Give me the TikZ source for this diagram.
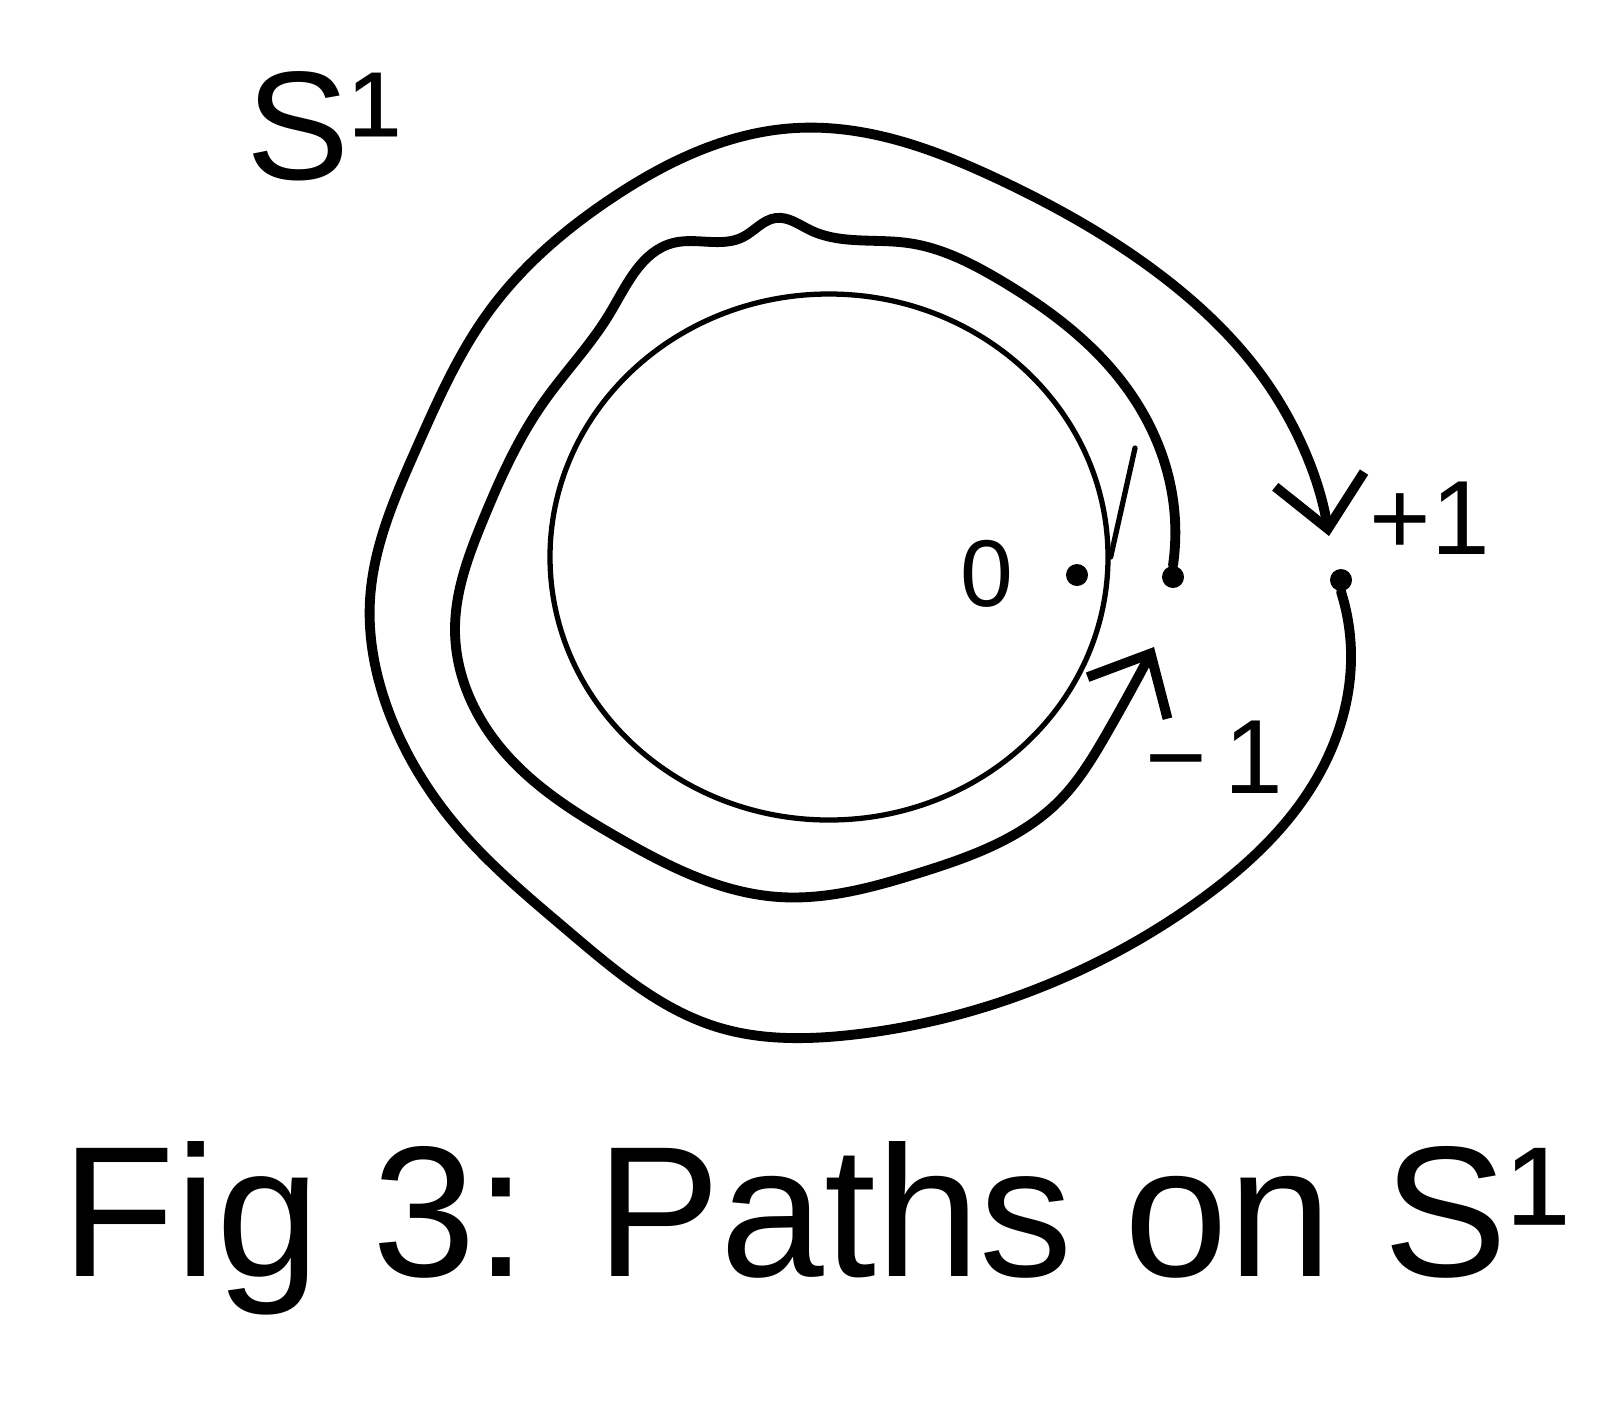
\documentclass[tikz,border=0pt]{standalone}
\usepackage{fontspec}
\setmainfont{Liberation Sans}
\usetikzlibrary{arrows.meta,positioning,calc,shapes.geometric,hobby}

\begin{document}
\begin{tikzpicture}[
    line cap=round, line join=round,
    base/.style={draw, ellipse, line width=1.5pt, inner sep=0pt,
      minimum width=5.58cm, minimum height=5.26cm},
    spot/.style={circle, fill=black, inner sep=0pt, minimum size=0.22cm},
    winding/.style={line width=2.8pt, use Hobby shortcut,
      -{Straight Barb[length=5mm,width=9mm]}},
    tag/.style={font=\fontsize{30}{32}\selectfont, inner sep=0pt}
  ]
    \useasboundingbox (0,0) rectangle (16,-14.08);
    \node[base] (circ) at (8.29,-5.57) {};
    \node[spot] (zero) at (10.77,-5.75) {};
    \node[tag, font=\fontsize{27}{29}\selectfont] (zerolbl) at (9.87,-5.74) {0};
    \coordinate (tick) at (11.35,-4.48);
    \draw[line width=1.5pt] (circ.east) -- (tick);
    \node[spot] (dotm) at (11.73,-5.77) {};
    \node[spot] (dotp) at (13.41,-5.80) {};
    \draw[winding] (dotm.north) .. (11.70,-4.83) .. (11.23,-3.83)
      .. (10.00,-2.80) .. (9.08,-2.43) .. (8.10,-2.30) .. (7.76,-2.18)
      .. (7.43,-2.37) .. (6.73,-2.43) .. (6.10,-3.13) .. (5.43,-4.03)
      .. (4.83,-5.20) .. (4.55,-6.30) .. (5.00,-7.47) .. (6.17,-8.37)
      .. (7.79,-8.97) .. (9.19,-8.73) .. (10.60,-8.00) .. (11.07,-7.33)
      .. (11.54,-6.47);
    \draw[winding] (dotp.south) .. (13.51,-6.60) .. (13.14,-7.83)
      .. (12.00,-9.00) .. (10.26,-9.93) .. (8.50,-10.35) .. (7.17,-10.27)
      .. (5.67,-9.30) .. (4.60,-8.30) .. (3.87,-7.07) .. (3.70,-6.00)
      .. (4.17,-4.47) .. (4.90,-3.10) .. (6.09,-2.00) .. (7.96,-1.28)
      .. (10.00,-1.80) .. (11.67,-2.80) .. (12.67,-3.83) .. (13.29,-5.36);
    \node[tag] (plus) at (14.30,-5.18) {+1};
    \node[tag] (minus) at (12.14,-7.57) {−\,1};
    \node[tag, font=\fontsize{44}{46}\selectfont] (space) at (3.24,-1.26) {S¹};
    \node[tag, font=\fontsize{53}{56}\selectfont, anchor=base west] (caption)
      at (0.61,-12.76) {Fig 3: Paths on S¹};
  \end{tikzpicture}
\end{document}
